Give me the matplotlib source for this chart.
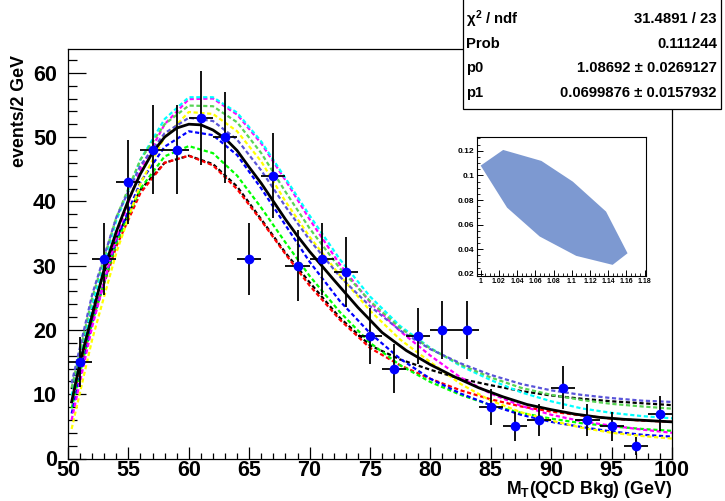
import numpy as np
import matplotlib
matplotlib.use("Agg")
import matplotlib.pyplot as plt
from matplotlib.patches import Rectangle, Polygon
from matplotlib.ticker import MultipleLocator

plt.rcParams['font.family'] = ['Liberation Sans', 'DejaVu Sans']
plt.rcParams['font.weight'] = 'bold'
plt.rcParams['mathtext.fontset'] = 'custom'
plt.rcParams['mathtext.rm'] = 'Liberation Sans:bold'
plt.rcParams['mathtext.bf'] = 'Liberation Sans:bold'
plt.rcParams['mathtext.it'] = 'Liberation Sans:bold'
plt.rcParams['lines.scale_dashes'] = False

# ---- binned transverse-mass spectrum (2 GeV bins) ----
bin_centers = [51, 53, 55, 57, 59, 61, 63, 65, 67, 69, 71, 73, 75,
               77, 79, 81, 83, 85, 87, 89, 91, 93, 95, 97, 99]
counts = [15, 31, 43, 48, 48, 53, 50, 31, 44, 30, 31, 29, 19,
          14, 19, 20, 20, 8, 5, 6, 11, 6, 5, 2, 7]
bin_half_width = 1.0

# ---- best fit curve ----
fit_x = [50.3, 51, 52, 53, 54, 55, 56, 57, 58, 59, 60, 61, 62, 63, 64, 65,
         66, 67, 68, 69, 70, 72, 74, 76, 78, 80, 82, 84, 86, 88, 90, 92,
         94, 96, 98, 100]
fit_y = [8.8, 15.0, 22.3, 29.5, 35.3, 40.2, 44.3, 47.6, 50.0, 51.4, 52.0,
         51.9, 51.1, 49.8, 47.9, 45.3, 42.8, 40.0, 37.2, 34.6, 32.2, 27.8,
         23.5, 19.6, 16.8, 14.6, 12.7, 11.0, 9.6, 8.4, 7.6, 6.9, 6.4, 6.1,
         5.9, 5.7]

# ---- fit curves at the points of the 1-sigma contour ----
band_x = [50.3, 52, 54, 56, 58, 60, 62, 64, 66, 68, 70, 72.5, 75, 77.5,
          80, 82.5, 85, 87.5, 90, 92.5, 95, 97.5, 100]
band_black = [10.8, 23.5, 34.3, 41.8, 46.0, 47.1, 45.8, 42.3, 37.2, 32.0,
              27.4, 21.9, 17.6, 15.4, 13.8, 12.4, 11.4, 10.5, 9.8, 9.3,
              8.9, 8.6, 8.3]
band_red = [8.6, 21.5, 33.0, 41.3, 46.0, 47.1, 45.6, 41.9, 37.0, 31.8,
            26.9, 21.6, 17.2, 14.5, 12.4, 10.6, 9.2, 8.1, 7.3, 6.7, 6.2,
            5.9, 5.7]
band_green = [7.8, 21.2, 33.5, 42.0, 47.0, 48.6, 47.5, 44.0, 39.0, 33.6,
              28.4, 22.8, 18.0, 14.5, 11.9, 9.9, 8.3, 7.1, 6.2, 5.5, 5.0,
              4.6, 4.3]
band_blue = [7.0, 21.0, 34.0, 43.0, 48.5, 50.9, 50.3, 47.2, 42.0, 36.3,
             30.6, 24.5, 19.5, 15.5, 12.4, 10.1, 8.3, 6.8, 5.7, 4.9, 4.2,
             3.7, 3.4]
band_yellow = [4.6, 18.5, 32.0, 42.8, 50.0, 53.9, 53.6, 50.9, 46.2, 40.0,
               34.5, 28.5, 23.0, 18.5, 15.0, 11.6, 9.0, 7.2, 5.9, 4.8, 4.0,
               3.5, 3.1]
band_magenta = [6.0, 20.5, 34.5, 45.0, 52.0, 55.9, 56.0, 53.5, 49.0, 43.3,
                37.2, 30.2, 24.3, 19.8, 16.0, 12.6, 10.1, 8.2, 6.8, 5.8,
                5.1, 4.5, 4.0]
band_cyan = [9.8, 24.0, 37.0, 46.5, 52.8, 56.2, 56.2, 53.8, 49.3, 43.6,
             37.8, 31.0, 25.2, 20.6, 17.2, 14.4, 12.2, 10.3, 8.9, 7.8, 7.1,
             6.6, 6.25]
band_lgreen = [11.0, 25.0, 37.5, 46.5, 52.0, 54.9, 54.8, 52.3, 47.5, 41.5,
               35.8, 29.6, 24.5, 20.3, 17.1, 14.6, 12.6, 11.0, 9.9, 9.1,
               8.5, 8.1, 7.75]
band_slate = [11.7, 25.5, 37.5, 45.6, 50.6, 53.0, 52.5, 49.6, 44.8, 39.2,
              34.0, 28.3, 23.7, 19.9, 17.0, 14.8, 13.0, 11.6, 10.6, 9.9,
              9.4, 9.0, 8.8]

# ---- 1-sigma contour in the (p0, p1) plane ----
contour_p0 = [1.0, 1.0247, 1.0667, 1.1012, 1.1377, 1.1613, 1.1449, 1.1049,
              1.0648, 1.029]
contour_p1 = [0.1079, 0.1206, 0.1117, 0.0949, 0.0706, 0.0368, 0.0274,
              0.0347, 0.0504, 0.0738]

# ---- fit summary ----
stat_names = [r'$\chi^{2}$ / ndf', 'Prob', 'p0', 'p1']
stat_values = ['31.4891 / 23', '0.111244', u'1.08692 \u00b1 0.0269127',
               u'0.0699876 \u00b1 0.0157932']

x_ticks = [50, 55, 60, 65, 70, 75, 80, 85, 90, 95, 100]
y_ticks = [0, 10, 20, 30, 40, 50, 60]

W, H = 725, 501
fig = plt.figure(figsize=(W / 100, H / 100), dpi=100)
fig.patch.set_facecolor('white')

# main frame: x 68..672 px, y 49..458.5 px
ax = fig.add_axes([68 / W, 1 - 458.5 / H, (672 - 68) / W, (458.5 - 49) / H])
ax.set_xlim(50, 100)
ax.set_ylim(0, 63.7)

dash = (0, (3.0, 1.9))
band_styles = [
    (band_black, 'black'),
    (band_red, '#ff0000'),
    (band_green, '#00ff00'),
    (band_blue, '#0000ff'),
    (band_yellow, '#ffff00'),
    (band_magenta, '#ff00ff'),
    (band_cyan, '#00ffff'),
    (band_lgreen, '#59d454'),
    (band_slate, '#5954d9'),
]
for vals, col in band_styles:
    ax.plot(band_x, vals, color=col, lw=1.6, linestyle=dash, zorder=2)

ax.plot(fit_x, fit_y, color='black', lw=2.0, zorder=3)

yerr = np.sqrt(np.array(counts, dtype=float))
ax.errorbar(bin_centers, counts, xerr=bin_half_width, yerr=yerr, fmt='none',
            ecolor='black', elinewidth=1.3, capsize=0, zorder=4)
ax.plot(bin_centers, counts, 'o', color='#0000ff', markersize=7.0,
        markeredgewidth=0, zorder=5)

ax.set_xticks(x_ticks)
ax.set_yticks(y_ticks)
ax.xaxis.set_minor_locator(MultipleLocator(1))
ax.yaxis.set_minor_locator(MultipleLocator(2))
ax.tick_params(axis='x', which='major', direction='in', length=9, width=0.9,
               labelsize=15.5, pad=1)
ax.tick_params(axis='x', which='minor', direction='in', length=4.5, width=0.9)
ax.tick_params(axis='y', which='major', direction='in', length=13, width=0.9,
               labelsize=15.5, pad=8)
ax.tick_params(axis='y', which='minor', direction='in', length=6.5, width=0.9)
for lab in ax.get_xticklabels() + ax.get_yticklabels():
    lab.set_fontweight('bold')
for sp in ax.spines.values():
    sp.set_linewidth(0.9)

fig.text(20 / W, 1 - 111 / H, 'events/2 GeV', rotation=90, ha='center',
         va='center', fontsize=12.8, fontweight='bold')
fig.text(672 / W, 1 - 490 / H, r'M$_{\mathbf{T}}$(QCD Bkg) (GeV)', ha='right',
         va='center', fontsize=12.8, fontweight='bold')

# fit statistics box
box = Rectangle((462.5 / W, 1 - 108.7 / H), (721 - 462.5) / W, 120 / H,
                transform=fig.transFigure, facecolor='white',
                edgecolor='black', lw=0.9, zorder=10)
fig.patches.append(box)
row_y = [19.3, 44.3, 68.3, 93.3]
for name, val, yy in zip(stat_names, stat_values, row_y):
    fig.text(466 / W, 1 - yy / H, name, ha='left', va='center',
             fontsize=10.7, fontweight='bold', zorder=11)
    fig.text(717 / W, 1 - yy / H, val, ha='right', va='center',
             fontsize=10.7, fontweight='bold', zorder=11)

# contour inset
axi = fig.add_axes([477.3 / W, 1 - 275.7 / H, (645.5 - 477.3) / W,
                    (275.7 - 137) / H])
axi.add_patch(Polygon(np.column_stack([contour_p0, contour_p1]), closed=True,
                      facecolor='#7d99d1', edgecolor='none'))
axi.set_xlim(0.9963, 1.181)
axi.set_ylim(0.0186, 0.1311)
axi.set_xticks([1.0, 1.02, 1.04, 1.06, 1.08, 1.1, 1.12, 1.14, 1.16, 1.18])
axi.set_xticklabels(['1', '1.02', '1.04', '1.06', '1.08', '1.1', '1.12',
                     '1.14', '1.16', '1.18'])
axi.set_yticks([0.02, 0.04, 0.06, 0.08, 0.1, 0.12])
axi.set_yticklabels(['0.02', '0.04', '0.06', '0.08', '0.1', '0.12'])
axi.xaxis.set_minor_locator(MultipleLocator(0.005))
axi.yaxis.set_minor_locator(MultipleLocator(0.005))
axi.tick_params(which='major', direction='in', length=4, width=0.7, pad=2)
axi.tick_params(axis='x', which='major', labelsize=5)
axi.tick_params(axis='y', which='major', labelsize=6)
axi.tick_params(which='minor', direction='in', length=2, width=0.6)
for lab in axi.get_xticklabels() + axi.get_yticklabels():
    lab.set_fontweight('bold')
for sp in axi.spines.values():
    sp.set_linewidth(0.8)

fig.savefig('out.png', dpi=100)
